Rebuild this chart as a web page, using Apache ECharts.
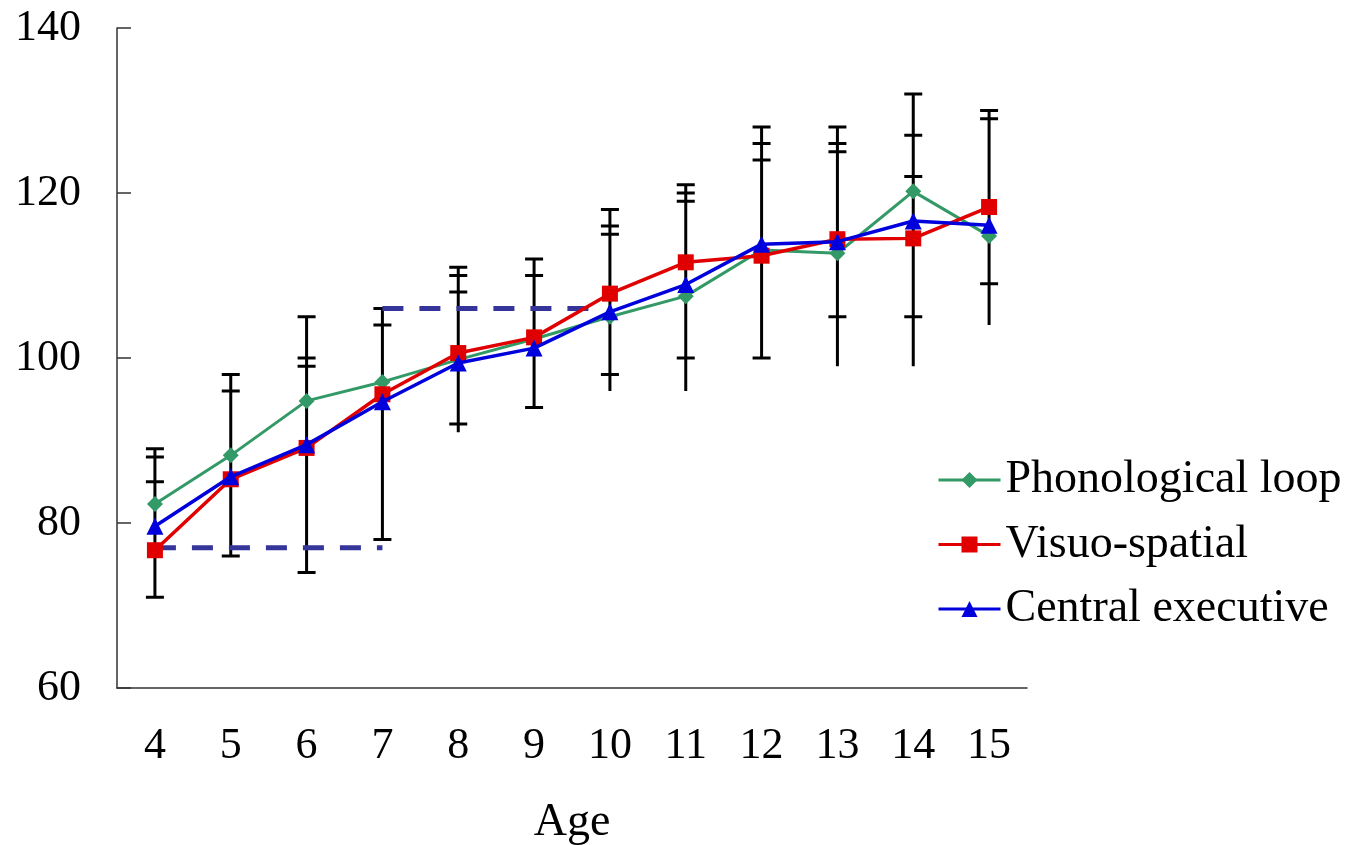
<!DOCTYPE html>
<html>
<head>
<meta charset="utf-8">
<script src="https://cdn.jsdelivr.net/npm/echarts@6/dist/echarts.min.js"></script>
<style>
  html, body { margin: 0; padding: 0; background: #fff; }
  #main { width: 1353px; height: 845px; }
</style>
</head>
<body>
<div id="main"></div>
<script>
const ages = ['4', '5', '6', '7', '8', '9', '10', '11', '12', '13', '14', '15'];
const phonological = [82.3, 88.2, 94.8, 97.1, 99.8, 102.3, 105.0, 107.5, 113.1, 112.7, 120.2, 114.8];
const visuoSpatial = [76.7, 85.3, 89.1, 95.6, 100.6, 102.5, 107.8, 111.6, 112.4, 114.4, 114.5, 118.3];
const centralExec = [79.6, 85.6, 89.5, 94.7, 99.4, 101.2, 105.6, 108.9, 113.8, 114.1, 116.6, 116.1];

// error bar ends per age: capped ends, and the lowest point of each bar
const errCaps = [
  [89, 88, 85, 71], [98, 96, 76], [105, 100, 99, 74], [106, 104, 78],
  [111, 110, 108, 92], [112, 110, 94], [118, 116, 115, 98], [121, 120, 119, 100],
  [128, 126, 124, 100], [128, 126, 125, 105], [132, 127, 122, 105], [130, 129, 109]
];
const errLow = [71, 76, 74, 78, 91, 94, 96, 96, 100, 99, 99, 104];

// dashed reference lines: [from age index, to age index, value]
const refLines = [[0, 3, 77], [3, 5.8, 106]];

const yTicks = [60, 80, 100, 120, 140];

const font = 'Liberation Serif';
const chart = echarts.init(document.getElementById('main'));

function xAt(api, pos) {
  const i = Math.floor(pos);
  const f = pos - i;
  const a = api.coord([i, 0])[0];
  if (f === 0) return a;
  const b = api.coord([i + 1, 0])[0];
  return a + (b - a) * f;
}

const option = {
  animation: false,
  grid: { left: 117, right: 326, top: 28, bottom: 157, outerBoundsMode: 'none', containLabel: false },
  legend: {
    orient: 'vertical',
    left: 932,
    top: 449,
    itemWidth: 62,
    itemHeight: 20,
    itemGap: 12.5,
    data: ['Phonological loop', 'Visuo-spatial', 'Central executive'],
    lineStyle: { width: 3 },
    textStyle: { fontFamily: font, fontSize: 46, color: '#000', lineHeight: 52 }
  },
  xAxis: {
    type: 'category',
    data: ages,
    name: 'Age',
    nameLocation: 'middle',
    nameGap: 112,
    nameTextStyle: { fontFamily: font, fontSize: 46, color: '#000' },
    axisLine: { lineStyle: { color: '#333', width: 1.5 } },
    axisTick: { inside: true, length: 12, lineStyle: { color: '#333', width: 1.5 } },
    axisLabel: { fontFamily: font, fontSize: 44, color: '#000', margin: 36 }
  },
  yAxis: {
    type: 'value',
    min: 60,
    max: 140,
    interval: 20,
    axisLine: { show: true, lineStyle: { color: '#333', width: 1.5 } },
    axisTick: { show: true, inside: true, length: 14, lineStyle: { color: '#333', width: 1.5 } },
    splitLine: { show: false },
    axisLabel: {
      fontFamily: font, fontSize: 44, color: '#000', margin: 36,
      formatter: v => yTicks.includes(v) ? String(v) : ''
    }
  },
  series: [
    {
      type: 'custom',
      name: 'errors',
      z: 1,
      silent: true,
      data: ages.map((a, i) => [i, errLow[i], Math.max(...errCaps[i])]),
      encode: { x: 0, y: [1, 2] },
      renderItem(params, api) {
        const i = api.value(0);
        const top = api.coord([i, api.value(2)]);
        const bot = api.coord([i, api.value(1)]);
        const style = { stroke: '#000', lineWidth: 3 };
        const children = [{
          type: 'line',
          shape: { x1: top[0], y1: top[1], x2: bot[0], y2: bot[1] },
          style
        }];
        errCaps[i].forEach(v => {
          const p = api.coord([i, v]);
          children.push({
            type: 'line',
            shape: { x1: p[0] - 9, y1: p[1], x2: p[0] + 9, y2: p[1] },
            style
          });
        });
        return { type: 'group', children };
      }
    },
    {
      type: 'custom',
      name: 'ref',
      z: 2,
      silent: true,
      data: refLines,
      encode: { y: 2 },
      renderItem(params, api) {
        const x1 = xAt(api, api.value(0));
        const x2 = xAt(api, api.value(1));
        const y = api.coord([0, api.value(2)])[1];
        return {
          type: 'line',
          shape: { x1, y1: y, x2, y2: y },
          style: { stroke: '#34349a', lineWidth: 5, lineDash: [21, 16] }
        };
      }
    },
    {
      name: 'Phonological loop',
      type: 'line',
      z: 3,
      data: phonological,
      symbol: 'diamond',
      symbolSize: 16,
      itemStyle: { color: '#339966' },
      lineStyle: { color: '#339966', width: 3 }
    },
    {
      name: 'Visuo-spatial',
      type: 'line',
      z: 4,
      data: visuoSpatial,
      symbol: 'rect',
      symbolSize: 16,
      itemStyle: { color: '#e00000' },
      lineStyle: { color: '#e00000', width: 3.5 }
    },
    {
      name: 'Central executive',
      type: 'line',
      z: 5,
      data: centralExec,
      symbol: 'triangle',
      symbolSize: 17,
      itemStyle: { color: '#0000dd' },
      lineStyle: { color: '#0000dd', width: 3.5 }
    }
  ]
};

chart.setOption(option);
</script>
</body>
</html>
